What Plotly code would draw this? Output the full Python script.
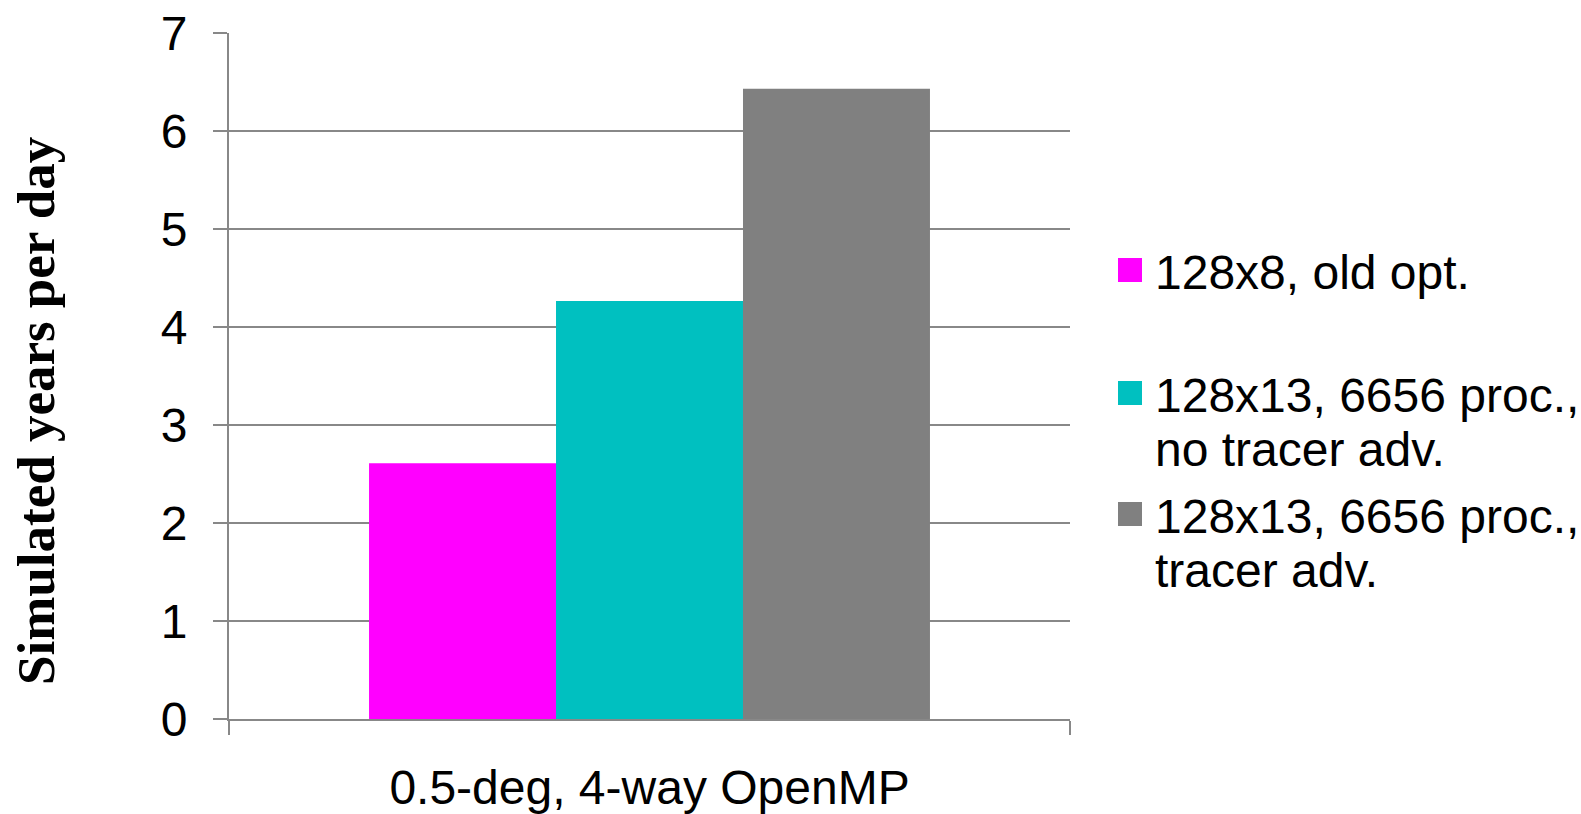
import plotly.graph_objects as go

# Throughput for one configuration, three runs
categories = ["0.5-deg, 4-way OpenMP"]
series_names = [
    "128x8, old opt.",
    "128x13, 6656 proc.,<br>no tracer adv.",
    "128x13, 6656 proc.,<br>tracer adv.",
]
series_values = [[2.61], [4.265], [6.43]]
series_colors = ["#FF00FF", "#00C0C0", "#808080"]
y_ticks = [0, 1, 2, 3, 4, 5, 6, 7]

W, H = 1581, 814
L, R, T, B = 229, 1070, 33, 719  # plot area in pixels

def px(x):
    return (x - L) / (R - L)

def py(y):
    return (B - y) / (B - T)

SANS = "Liberation Sans, Arial, sans-serif"
GRID = "#888888"

fig = go.Figure()
for name, vals, col in zip(series_names, series_values, series_colors):
    fig.add_trace(go.Bar(
        x=categories, y=vals, name=name.replace("<br>", " "),
        marker=dict(color=col, line=dict(width=0)),
        showlegend=False,
    ))

# Hand-built legend: square swatch plus one annotation per text line
legend_rows = [270, 393, 514]
line_step = 54
annotations = []
shapes = []
for name, col, yc in zip(series_names, series_colors, legend_rows):
    shapes.append(dict(
        type="rect", xref="paper", yref="paper",
        x0=px(1118), x1=px(1142), y0=py(yc + 12), y1=py(yc - 12),
        fillcolor=col, line=dict(width=0),
    ))
    for i, line in enumerate(name.split("<br>")):
        annotations.append(dict(
            text=line, xref="paper", yref="paper",
            x=px(1153), y=py(yc + i * line_step + 2),
            xanchor="left", yanchor="middle", showarrow=False,
            font=dict(family=SANS, size=48, color="#000000"),
        ))

annotations.append(dict(
    text="<b>Simulated years per day</b>", xref="paper", yref="paper",
    x=px(36), y=py(411), xanchor="center", yanchor="middle",
    textangle=-90, showarrow=False,
    font=dict(family="Liberation Serif, Times New Roman, serif", size=53, color="#000000"),
))

fig.update_layout(
    width=W, height=H,
    margin=dict(l=L, r=W - R, t=T, b=H - B, pad=0, autoexpand=False),
    paper_bgcolor="white", plot_bgcolor="white",
    barmode="group", bargap=0.333, bargroupgap=0,
    font=dict(family=SANS, size=48, color="#000000"),
    shapes=shapes, annotations=annotations,
    showlegend=False,
)
fig.update_yaxes(
    range=[0, 7], tickvals=y_ticks, ticktext=[str(v) for v in y_ticks],
    showgrid=True, gridcolor=GRID, gridwidth=2,
    showline=True, linecolor=GRID, linewidth=2,
    ticks="outside", ticklen=14, tickcolor=GRID, tickwidth=2,
    ticklabelstandoff=16, zeroline=False, automargin=False,
    tickfont=dict(family=SANS, size=48, color="#000000"),
)
fig.update_xaxes(
    type="category", categoryarray=categories,
    showgrid=False, showline=True, linecolor=GRID, linewidth=2,
    ticks="outside", tickson="boundaries", ticklen=14, tickcolor=GRID, tickwidth=2,
    ticklabelstandoff=25, zeroline=False, automargin=False,
    tickfont=dict(family=SANS, size=48, color="#000000"),
)

fig.write_html("out.html")
